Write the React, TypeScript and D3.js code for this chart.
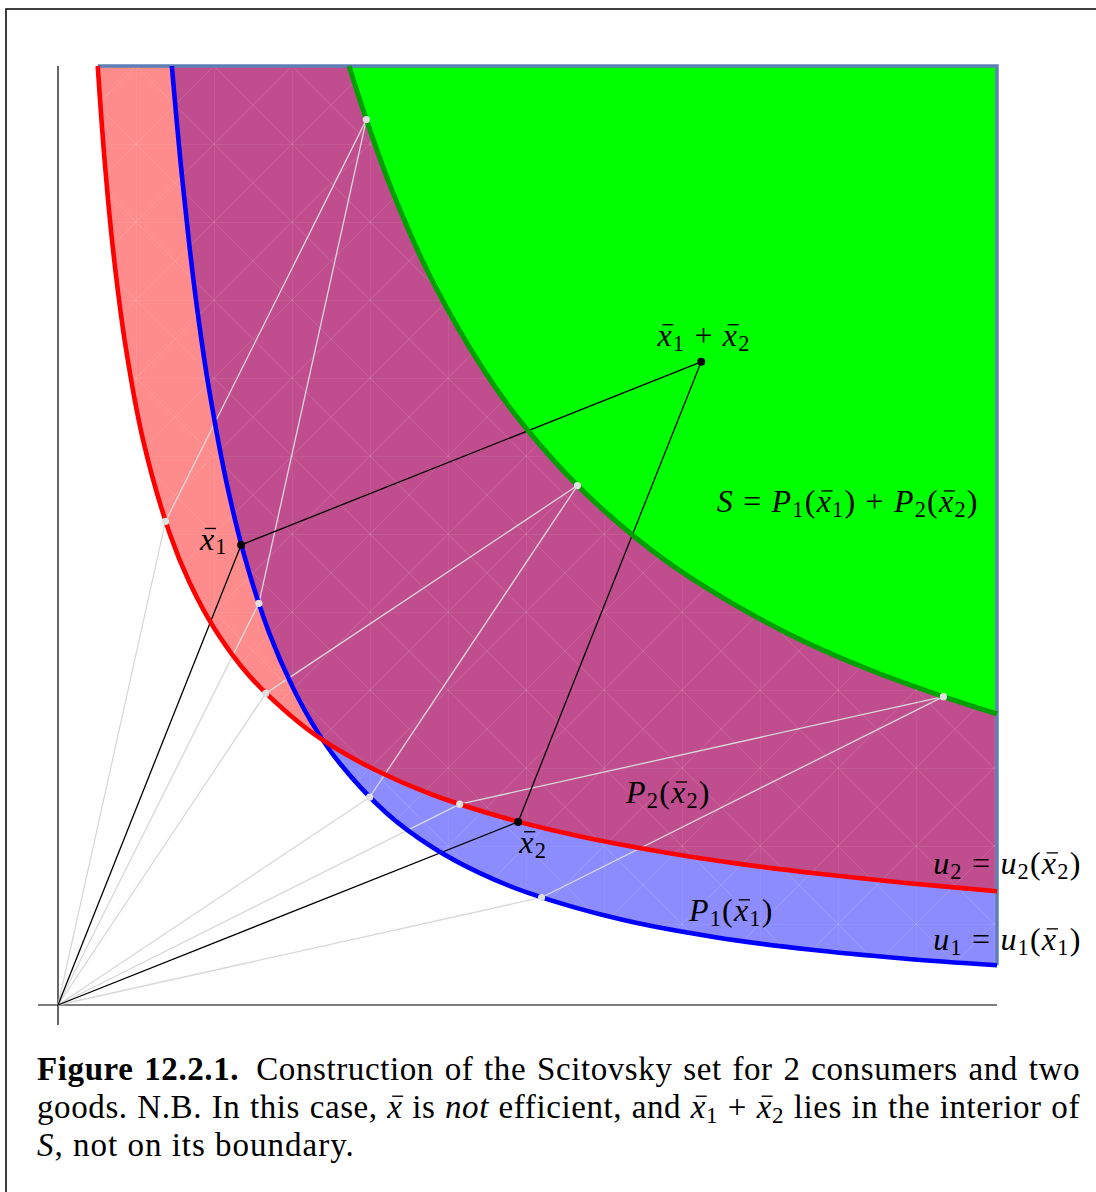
import React, { useEffect, useRef } from "react";
import * as d3 from "d3";

const FONT = "'Liberation Serif', 'Times New Roman', serif";

// points (good 1 on x, good 2 on y, both 0..10)
const blueCurve: [number, number][] = [
  [1.212, 10.0], [1.3, 9.03], [1.4, 8.08], [1.5, 7.28], [1.6, 6.61], [1.8, 5.54],
  [2.0, 4.73], [2.25, 3.96], [2.5, 3.385], [2.75, 2.93], [3.0, 2.575], [3.5, 2.043],
  [4.0, 1.672], [4.5, 1.401], [5.0, 1.197], [6.0, 0.91], [7.0, 0.722], [8.0, 0.591],
  [9.0, 0.496], [10.0, 0.423],
];
const redCurve: [number, number][] = [
  [0.423, 10.0], [0.496, 9.0], [0.591, 8.0], [0.722, 7.0], [0.91, 6.0], [1.197, 5.0],
  [1.401, 4.5], [1.672, 4.0], [2.043, 3.5], [2.575, 3.0], [2.93, 2.75], [3.385, 2.5],
  [3.96, 2.25], [4.73, 2.0], [5.54, 1.8], [6.61, 1.6], [7.28, 1.5], [8.08, 1.4],
  [9.03, 1.3], [10.0, 1.212],
];
// boundary of the Scitovsky set S
const greenCurve: [number, number][] = [
  [3.1, 10.0], [3.284, 9.429], [3.578, 8.623], [3.976, 7.734], [4.557, 6.726],
  [4.971, 6.159], [5.532, 5.532], [6.159, 4.971], [6.726, 4.557], [7.734, 3.976],
  [8.623, 3.578], [9.429, 3.284], [10.0, 3.1],
];

// construction points: red + blue = green
const redPts: [number, number][] = [[1.145, 5.15], [2.213, 3.319], [4.278, 2.139]];
const bluePts: [number, number][] = [[2.139, 4.278], [3.319, 2.213], [5.15, 1.145]];
const greenPts: [number, number][] = [[3.284, 9.429], [5.532, 5.532], [9.429, 3.284]];

const xbar1: [number, number] = [1.95, 4.9];
const xbar2: [number, number] = [4.9, 1.95];
const xsum: [number, number] = [xbar1[0] + xbar2[0], xbar1[1] + xbar2[1]];

type Part = [string, "i" | "r" | "b" | "s"];

const labels: { at: [number, number]; parts: Part[] }[] = [
  { at: [6.88, 7.02], parts: [["x", "b"], ["1", "s"], [" + ", "r"], ["x", "b"], ["2", "s"]] },
  {
    at: [8.41, 5.25],
    parts: [["S", "i"], [" = ", "r"], ["P", "i"], ["1", "s"], ["(", "r"], ["x", "b"], ["1", "s"], [")", "r"],
      [" + ", "r"], ["P", "i"], ["2", "s"], ["(", "r"], ["x", "b"], ["2", "s"], [")", "r"]],
  },
  { at: [1.66, 4.85], parts: [["x", "b"], ["1", "s"]] },
  { at: [5.06, 1.62], parts: [["x", "b"], ["2", "s"]] },
  { at: [6.5, 2.15], parts: [["P", "i"], ["2", "s"], ["(", "r"], ["x", "b"], ["2", "s"], [")", "r"]] },
  { at: [7.17, 0.895], parts: [["P", "i"], ["1", "s"], ["(", "r"], ["x", "b"], ["1", "s"], [")", "r"]] },
  {
    at: [10.11, 1.395],
    parts: [["u", "i"], ["2", "s"], [" = ", "r"], ["u", "i"], ["2", "s"], ["(", "r"], ["x", "b"], ["2", "s"], [")", "r"]],
  },
  {
    at: [10.11, 0.586],
    parts: [["u", "i"], ["1", "s"], [" = ", "r"], ["u", "i"], ["1", "s"], ["(", "r"], ["x", "b"], ["1", "s"], [")", "r"]],
  },
];

const captionLine2: Part[] = [
  ["goods. N.B. In this case, ", "r"], ["x", "b"], [" is ", "r"], ["not", "i"], [" efficient, and ", "r"],
  ["x", "b"], ["1", "s"], [" + ", "r"], ["x", "b"], ["2", "s"], [" lies in the interior of", "r"],
];

function math(parts: Part[], f: number) {
  let down = false;
  return parts.map(([t, kind], k) => {
    let dy = 0;
    if (kind === "s" && !down) { dy = 0.15 * f; down = true; }
    else if (kind !== "s" && down) { dy = -0.15 * f; down = false; }
    return (
      <tspan
        key={k}
        dy={dy || undefined}
        fontStyle={kind === "i" || kind === "b" ? "italic" : "normal"}
        fontSize={kind === "s" ? 0.7 * f : undefined}
        className={kind === "b" ? "bar" : undefined}
      >
        {t}
      </tspan>
    );
  });
}

export default function App() {
  const svgRef = useRef<SVGSVGElement>(null);

  const x = d3.scaleLinear().domain([0, 10]).range([58, 997]);
  const y = d3.scaleLinear().domain([0, 10]).range([1005, 66]);
  const line = d3.line<[number, number]>()
    .x(d => x(d[0]))
    .y(d => y(d[1]))
    .curve(d3.curveCatmullRom.alpha(0.5));
  const region = (pts: [number, number][]) => line(pts) + `L${x(10)},${y(10)}Z`;

  useEffect(() => {
    const svg = d3.select(svgRef.current);
    // justify the caption lines
    svg.selectAll<SVGTextElement, unknown>("text.justify").each(function () {
      this.setAttribute("word-spacing", "0");
      const len = this.getComputedTextLength();
      const spaces = (this.textContent!.match(/ /g) || []).length;
      const target = +(this.getAttribute("data-width") || 0);
      this.setAttribute("word-spacing", String((target - len) / spaces));
    });
    // bars over x
    const g = svg.select("g.bars");
    g.selectAll("*").remove();
    svg.selectAll<SVGTSpanElement, unknown>("tspan.bar").each(function () {
      const f = parseFloat(getComputedStyle(this).fontSize);
      const s = this.getStartPositionOfChar(0);
      const e = this.getEndPositionOfChar(0);
      g.append("line")
        .attr("x1", s.x + 0.15 * f)
        .attr("x2", e.x + 0.02 * f)
        .attr("y1", s.y - 0.66 * f)
        .attr("y2", s.y - 0.66 * f)
        .attr("stroke", "#000")
        .attr("stroke-width", 0.042 * f);
    });
  }, []);

  const gray = "#d8d8d8";
  const mf = 32;
  const cf = 33;
  const cell = 78;

  return (
    <svg ref={svgRef} width={1096} height={1192}
      style={{ position: "absolute", left: 0, top: 0, background: "#fff" }}
      fontFamily={FONT}>
      <defs>
        <clipPath id="aboveRed"><path d={region(redCurve)} /></clipPath>
        <pattern id="mesh" patternUnits="userSpaceOnUse" x={x(0)} y={y(10)} width={cell} height={cell}>
          <path d={`M0,0V${cell}M0,0H${cell}M0,0L${cell},${cell}M${cell},0L0,${cell}`}
            stroke="#fff" strokeOpacity={0.13} strokeWidth={1} fill="none" />
        </pattern>
        <mask id="lowerSet">
          <path d={region(redCurve)} fill="#fff" />
          <path d={region(blueCurve)} fill="#fff" />
        </mask>
      </defs>
      <rect x={6} y={9} width={1200} height={1300} fill="none" stroke="#000" strokeWidth={1.5} />

      <path d={region(redCurve)} fill="#ff8c8c" />
      <path d={region(blueCurve)} fill="#8c8cff" />
      <path d={region(blueCurve)} fill="#c04d8e" clipPath="url(#aboveRed)" />
      <rect x={x(0)} y={y(10)} width={x(10) - x(0)} height={y(0) - y(10)} fill="url(#mesh)" mask="url(#lowerSet)" />
      <path d={region(greenCurve)} fill="#00ff00" />

      <path d={`M${x(redCurve[0][0])},${y(10)}L${x(10)},${y(10)}L${x(10)},${y(blueCurve[blueCurve.length - 1][1])}`}
        fill="none" stroke="#5f80b6" strokeWidth={3.5} />

      {/* axes */}
      <line x1={38} x2={x(10)} y1={y(0)} y2={y(0)} stroke="#000" strokeWidth={1.2} />
      <line x1={x(0)} x2={x(0)} y1={y(10)} y2={1025} stroke="#000" strokeWidth={1.2} />

      {/* construction lines */}
      {redPts.map((p, i) => (
        <g key={i} stroke={gray} strokeWidth={1.3}>
          <line x1={x(0)} y1={y(0)} x2={x(p[0])} y2={y(p[1])} />
          <line x1={x(0)} y1={y(0)} x2={x(bluePts[i][0])} y2={y(bluePts[i][1])} />
          <line x1={x(p[0])} y1={y(p[1])} x2={x(greenPts[i][0])} y2={y(greenPts[i][1])} />
          <line x1={x(bluePts[i][0])} y1={y(bluePts[i][1])} x2={x(greenPts[i][0])} y2={y(greenPts[i][1])} />
        </g>
      ))}
      <g stroke="#000" strokeWidth={1.3}>
        <line x1={x(0)} y1={y(0)} x2={x(xbar1[0])} y2={y(xbar1[1])} />
        <line x1={x(0)} y1={y(0)} x2={x(xbar2[0])} y2={y(xbar2[1])} />
        <line x1={x(xbar1[0])} y1={y(xbar1[1])} x2={x(xsum[0])} y2={y(xsum[1])} />
        <line x1={x(xbar2[0])} y1={y(xbar2[1])} x2={x(xsum[0])} y2={y(xsum[1])} />
      </g>

      <path d={line(blueCurve)!} fill="none" stroke="#0000ff" strokeWidth={4.6} />
      <path d={line(redCurve)!} fill="none" stroke="#ff0000" strokeWidth={4.6} />
      <path d={line(greenCurve)!} fill="none" stroke="#00a000" strokeWidth={5} />

      {[...redPts, ...bluePts, ...greenPts].map((p, i) => (
        <circle key={i} cx={x(p[0])} cy={y(p[1])} r={3.6} fill="#e0e0e0" />
      ))}
      {[xbar1, xbar2, xsum].map((p, i) => (
        <circle key={i} cx={x(p[0])} cy={y(p[1])} r={4} fill="#000" />
      ))}

      {labels.map((l, i) => (
        <text key={i} x={x(l.at[0])} y={y(l.at[1])} fontSize={mf} letterSpacing={1.2}
          textAnchor="middle" style={{ whiteSpace: "pre" }}>
          {math(l.parts, mf)}
        </text>
      ))}

      {/* caption */}
      <g fontSize={cf} letterSpacing={0.6}>
        <text x={37} y={1080} className="justify" data-width={1043} style={{ whiteSpace: "pre" }}>
          <tspan fontWeight="bold">Figure 12.2.1.</tspan>
          <tspan>{"\u2002Construction of the Scitovsky set for 2 consumers and two"}</tspan>
        </text>
        <text x={37} y={1118} className="justify" data-width={1043} style={{ whiteSpace: "pre" }}>
          {math(captionLine2, cf)}
        </text>
        <text x={37} y={1156} letterSpacing={1} style={{ whiteSpace: "pre" }}>
          <tspan fontStyle="italic">S</tspan>
          <tspan>, not on its boundary.</tspan>
        </text>
      </g>
      <g className="bars" />
    </svg>
  );
}
